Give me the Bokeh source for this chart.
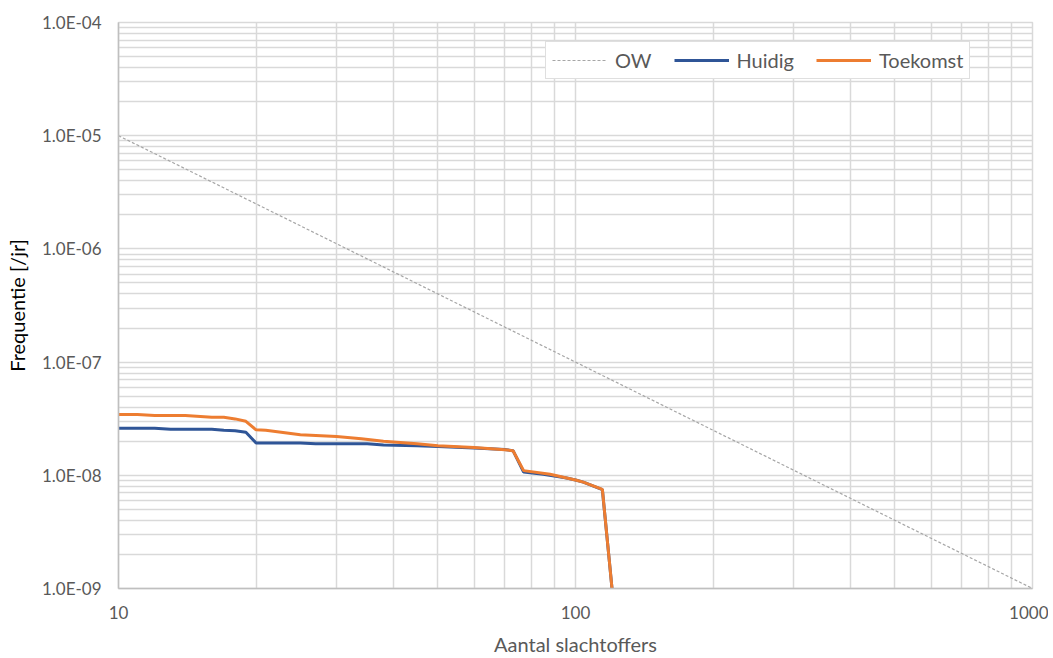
from bokeh.plotting import figure
from bokeh.models import Range1d, Legend, LegendItem, CustomJSTickFormatter, FixedTicker
from bokeh.embed import file_html
from bokeh.resources import INLINE

# Data
ow_x = [10, 1000]
ow_y = [1e-5, 1e-9]

huidig_x = [10, 12, 13, 15, 16, 17, 18, 19, 20, 25, 27, 30, 35, 38, 45, 50, 60, 70, 73, 77, 85, 95, 100, 104, 114.5, 120.5]
huidig_y = [2.61e-8, 2.61e-8, 2.55e-8, 2.55e-8, 2.55e-8, 2.5e-8, 2.48e-8, 2.4e-8, 1.93e-8, 1.93e-8, 1.9e-8, 1.9e-8, 1.9e-8, 1.85e-8, 1.82e-8, 1.8e-8, 1.74e-8, 1.69e-8, 1.65e-8, 1.07e-8, 1.02e-8, 9.5e-9, 9.1e-9, 8.7e-9, 7.48e-9, 9e-10]

toekomst_x = [10, 11, 12, 14, 16, 17, 18, 19, 20, 21, 25, 30, 34, 38, 45, 50, 60, 70, 73, 77, 88, 100, 104, 114.5, 120.5]
toekomst_y = [3.45e-8, 3.45e-8, 3.38e-8, 3.38e-8, 3.25e-8, 3.25e-8, 3.15e-8, 3.0e-8, 2.52e-8, 2.5e-8, 2.28e-8, 2.2e-8, 2.1e-8, 2.0e-8, 1.9e-8, 1.82e-8, 1.76e-8, 1.68e-8, 1.65e-8, 1.1e-8, 1.02e-8, 9.1e-9, 8.7e-9, 7.5e-9, 9e-10]

x_major = [10, 100, 1000]
x_minor = [20, 30, 40, 50, 60, 70, 80, 90, 200, 300, 400, 500, 600, 700, 800, 900]
y_major = [1e-9, 1e-8, 1e-7, 1e-6, 1e-5, 1e-4]
y_minor = [m * d for d in [1e-9, 1e-8, 1e-7, 1e-6, 1e-5] for m in range(2, 10)]

FONT = "Lato"
GRID = "#d9d9d9"
TXT = "#595959"

p = figure(width=1048, height=658, x_axis_type="log", y_axis_type="log",
           x_range=Range1d(10, 1000), y_range=Range1d(1e-9, 1e-4),
           output_backend="svg", toolbar_location=None)
p.min_border_left = 118
p.min_border_right = 16
p.min_border_top = 22
p.min_border_bottom = 68
p.outline_line_color = GRID
p.outline_line_width = 1.5

p.xaxis.ticker = FixedTicker(ticks=x_major, minor_ticks=x_minor)
p.yaxis.ticker = FixedTicker(ticks=y_major, minor_ticks=y_minor)

for g in (p.xgrid, p.ygrid):
    g.grid_line_color = GRID
    g.grid_line_width = 1.5
    g.minor_grid_line_color = GRID
    g.minor_grid_line_width = 1.5

for ax in (p.xaxis, p.yaxis):
    ax.axis_line_color = "#bfbfbf"
    ax.axis_line_width = 1.5
    ax.major_tick_out = 0
    ax.major_tick_in = 0
    ax.minor_tick_out = 0
    ax.minor_tick_in = 0
    ax.major_label_text_font = FONT
    ax.major_label_text_font_size = "17px"
    ax.major_label_text_color = TXT
    ax.axis_label_text_font = FONT
    ax.axis_label_text_font_size = "20px"
    ax.axis_label_text_font_style = "normal"

p.xaxis.axis_label = "Aantal slachtoffers"
p.xaxis.axis_label_text_color = TXT
p.xaxis.major_label_standoff = 17
p.xaxis.axis_label_standoff = 10
p.xaxis.formatter = CustomJSTickFormatter(code="return String(Math.round(tick));")

p.yaxis.axis_label = "Frequentie [/jr]"
p.yaxis.axis_label_text_color = "#000000"
p.yaxis.major_label_standoff = 17
p.yaxis.axis_label_standoff = 10
p.yaxis.formatter = CustomJSTickFormatter(code="""
const s = tick.toExponential(1).split('e');
let e = parseInt(s[1]);
const sign = e < 0 ? '-' : '+';
e = Math.abs(e);
return s[0] + 'E' + sign + (e < 10 ? '0' : '') + e;
""")

r_ow = p.line(ow_x, ow_y, line_color="#a6a6a6", line_width=1.2, line_dash="3 2")
r_h = p.line(huidig_x, huidig_y, line_color="#2F5597", line_width=3)
r_t = p.line(toekomst_x, toekomst_y, line_color="#ED7D31", line_width=3)

legend = Legend(items=[LegendItem(label="OW", renderers=[r_ow]),
                       LegendItem(label="Huidig", renderers=[r_h]),
                       LegendItem(label="Toekomst", renderers=[r_t])],
                orientation="horizontal", location=(427, 509))
legend.label_text_font = FONT
legend.label_text_font_size = "20px"
legend.label_text_color = TXT
legend.glyph_width = 55
legend.label_standoff = 8
legend.spacing = 22
legend.padding = 6
legend.margin = 0
legend.border_line_color = "#bfbfbf"
legend.border_line_width = 1
legend.background_fill_alpha = 1
p.add_layout(legend, "center")

open("out.html", "w").write(file_html(p, INLINE))
